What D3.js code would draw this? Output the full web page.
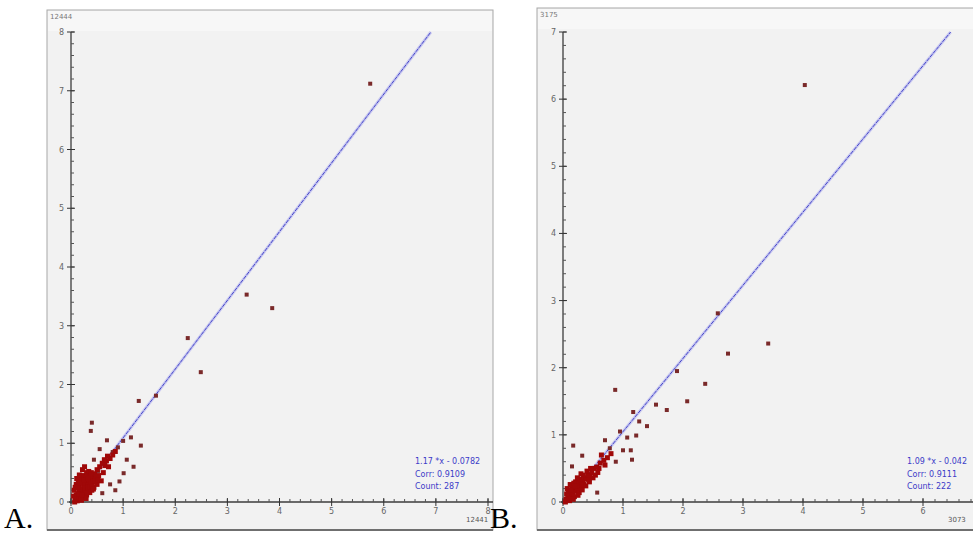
<!DOCTYPE html>
<html>
<head>
<meta charset="utf-8">
<script src="https://cdn.jsdelivr.net/npm/d3@7"></script>
<style>
    body { margin: 0; background: #ffffff; }
    svg { display: block; }
</style>
</head>
<body>
<svg id="chart"></svg>
<script>
// ---- data ----
const aTicks = [0, 1, 2, 3, 4, 5, 6, 7, 8];
const bTicks = [0, 1, 2, 3, 4, 5, 6, 7];
const bXTicks = [0, 1, 2, 3, 4, 5, 6];

// panel A, dense cluster near origin
const aClusterX = [0.08, 0.10, 0.12, 0.15, 0.18, 0.20, 0.22, 0.25, 0.27, 0.30, 0.32, 0.35, 0.38, 0.40, 0.42, 0.45, 0.48, 0.50, 0.53, 0.55,
    0.06, 0.10, 0.14, 0.16, 0.20, 0.24, 0.28, 0.30, 0.34, 0.12, 0.20, 0.26, 0.30, 0.36, 0.40, 0.44, 0.50, 0.58, 0.62, 0.65,
    0.68, 0.60, 0.72, 0.07, 0.09, 0.13, 0.17, 0.19, 0.23, 0.29, 0.33, 0.37, 0.41, 0.46, 0.52, 0.11, 0.16, 0.22, 0.26, 0.36,
    0.14, 0.18, 0.24, 0.28, 0.32, 0.05, 0.08, 0.21, 0.39, 0.43, 0.75, 0.80, 0.70, 0.85, 0.64];
const aClusterY = [0.05, 0.12, 0.08, 0.18, 0.10, 0.22, 0.15, 0.28, 0.20, 0.33, 0.25, 0.38, 0.30, 0.42, 0.35, 0.48, 0.40, 0.55, 0.45, 0.60,
    0.20, 0.30, 0.35, 0.28, 0.40, 0.45, 0.42, 0.50, 0.52, 0.02, 0.03, 0.08, 0.12, 0.16, 0.20, 0.25, 0.30, 0.36, 0.50, 0.62,
    0.70, 0.66, 0.60, 0.00, 0.08, 0.14, 0.22, 0.05, 0.32, 0.06, 0.20, 0.26, 0.28, 0.36, 0.38, 0.40, 0.46, 0.55, 0.60, 0.44,
    0.25, 0.33, 0.37, 0.15, 0.40, 0.10, 0.25, 0.12, 0.50, 0.22, 0.74, 0.80, 0.78, 0.86, 0.72];
// panel A, scattered points
const aOutX = [0.40, 0.38, 0.69, 0.90, 1.00, 1.34, 1.07, 0.44, 0.52, 0.65, 1.01, 0.93, 0.75, 0.85, 0.60, 1.20, 1.30, 1.63, 2.24, 2.49, 3.37, 3.86, 5.74, 0.80, 0.55, 1.15];
const aOutY = [1.35, 1.21, 1.05, 0.93, 1.04, 0.96, 0.72, 0.72, 0.53, 0.68, 0.49, 0.35, 0.30, 0.20, 0.15, 0.60, 1.72, 1.81, 2.79, 2.21, 3.53, 3.30, 7.12, 0.85, 0.90, 1.10];

// panel B, dense cluster near origin
const bClusterX = [0.05, 0.08, 0.10, 0.12, 0.14, 0.16, 0.18, 0.20, 0.22, 0.24, 0.26, 0.28, 0.30, 0.33, 0.36, 0.39, 0.42, 0.45, 0.48, 0.52,
    0.06, 0.09, 0.11, 0.15, 0.19, 0.23, 0.27, 0.31, 0.35, 0.40, 0.44, 0.50, 0.56, 0.62, 0.68, 0.74, 0.80, 0.58, 0.64, 0.70,
    0.04, 0.07, 0.13, 0.17, 0.21, 0.25, 0.29, 0.34, 0.38, 0.46, 0.12, 0.18, 0.24, 0.30, 0.10, 0.20, 0.32, 0.54, 0.60, 0.43];
const bClusterY = [0.04, 0.06, 0.10, 0.08, 0.14, 0.12, 0.18, 0.16, 0.22, 0.20, 0.25, 0.24, 0.30, 0.28, 0.34, 0.36, 0.40, 0.38, 0.44, 0.50,
    0.12, 0.16, 0.02, 0.22, 0.08, 0.28, 0.14, 0.20, 0.26, 0.46, 0.30, 0.36, 0.52, 0.58, 0.62, 0.66, 0.72, 0.44, 0.70, 0.55,
    0.00, 0.20, 0.18, 0.04, 0.30, 0.10, 0.34, 0.40, 0.24, 0.50, 0.26, 0.28, 0.36, 0.42, 0.05, 0.24, 0.18, 0.40, 0.50, 0.33];
// panel B, scattered points
const bOutX = [4.03, 2.58, 3.42, 2.75, 2.37, 0.87, 2.07, 1.73, 1.17, 1.27, 1.40, 1.07, 1.22, 1.13, 1.15, 1.00, 0.88, 0.78, 0.32, 0.17, 0.15, 0.57, 1.55, 1.90, 0.95, 0.70];
const bOutY = [6.21, 2.81, 2.36, 2.21, 1.76, 1.67, 1.50, 1.37, 1.34, 1.20, 1.13, 0.96, 0.99, 0.77, 0.63, 0.77, 0.60, 0.80, 0.69, 0.84, 0.53, 0.14, 1.45, 1.95, 1.05, 0.92];

// fit line + stats text
const aFit = { slope: 1.17, intercept: -0.0782 };
const bFit = { slope: 1.09, intercept: -0.042 };
const aStats = ["1.17 *x - 0.0782", "Corr: 0.9109", "Count: 287"];
const bStats = ["1.09 *x - 0.042", "Corr: 0.9111", "Count: 222"];
const aNames = { y: "12444", x: "12441" };
const bNames = { y: "3175", x: "3073" };

const toPoints = (xs, ys) => xs.map((x, i) => ({ x: x, y: ys[i] }));

class ScatterPanel {
    constructor(config, data) {
        this.config = {
            parent: config.parent,
            frame: config.frame,
            xrange: config.xrange,
            yrange: config.yrange,
            max: config.max,
            yticks: config.yticks,
            xticks: config.xticks,
            labelX: config.labelX,
            textX: config.textX
        }
        this.data = data;
        this.init();
    }

    init() {
        let self = this;
        let f = self.config.frame;

        self.g = self.config.parent.append('g');

        self.xscale = d3.scaleLinear()
            .domain([0, self.config.max])
            .range(self.config.xrange);
        self.yscale = d3.scaleLinear()
            .domain([0, self.config.max])
            .range(self.config.yrange);

        // panel background
        self.g.append('rect')
            .attr('x', f.x).attr('y', f.y)
            .attr('width', f.w).attr('height', f.h)
            .attr('fill', '#f2f2f2')
            .attr('stroke', '#a8a8a8');
        self.g.append('rect')
            .attr('x', f.x + 1).attr('y', f.y + 1)
            .attr('width', f.w - 2).attr('height', 20)
            .attr('fill', '#f7f7f7');
        self.g.append('line')
            .attr('x1', f.x).attr('x2', f.x + f.w)
            .attr('y1', f.y + f.h).attr('y2', f.y + f.h)
            .attr('stroke', '#6f6f6f')
            .attr('stroke-width', 2);
    }

    render() {
        let self = this;
        let x0 = self.xscale(0), y0 = self.yscale(0);
        let minor = d3.range(0, self.config.max + 0.001, 0.2);

        // y axis
        self.g.append('line')
            .attr('x1', x0).attr('x2', x0)
            .attr('y1', self.yscale(self.config.max)).attr('y2', y0 + 2)
            .attr('stroke', '#3c3c3c').attr('stroke-width', 1.3);
        self.g.selectAll('.ymin').data(minor).join('line')
            .attr('x1', x0).attr('x2', x0 + 3)
            .attr('y1', d => self.yscale(d)).attr('y2', d => self.yscale(d))
            .attr('stroke', '#555');
        self.g.selectAll('.ymaj').data(self.config.yticks).join('line')
            .attr('x1', x0 - 4).attr('x2', x0 + 4)
            .attr('y1', d => self.yscale(d)).attr('y2', d => self.yscale(d))
            .attr('stroke', '#333');
        self.g.selectAll('.ylab').data(self.config.yticks).join('text')
            .attr('x', x0 - 7)
            .attr('y', d => self.yscale(d) + 3)
            .attr('text-anchor', 'end')
            .attr('font-size', 8)
            .attr('font-family', 'DejaVu Sans')
            .attr('fill', '#666')
            .text(d => d);

        // x axis
        self.g.append('line')
            .attr('x1', x0 - 2).attr('x2', self.config.frame.x + self.config.frame.w)
            .attr('y1', y0).attr('y2', y0)
            .attr('stroke', '#3c3c3c').attr('stroke-width', 1.3);
        self.g.selectAll('.xmin').data(minor).join('line')
            .attr('x1', d => self.xscale(d)).attr('x2', d => self.xscale(d))
            .attr('y1', y0).attr('y2', y0 - 3)
            .attr('stroke', '#555');
        self.g.selectAll('.xmaj').data(self.config.xticks).join('line')
            .attr('x1', d => self.xscale(d)).attr('x2', d => self.xscale(d))
            .attr('y1', y0 - 4).attr('y2', y0 + 4)
            .attr('stroke', '#333');
        self.g.selectAll('.xlab').data(self.config.xticks).join('text')
            .attr('x', d => self.xscale(d))
            .attr('y', y0 + 12)
            .attr('text-anchor', 'middle')
            .attr('font-size', 8)
            .attr('font-family', 'DejaVu Sans')
            .attr('fill', '#666')
            .text(d => d);

        // axis names
        self.g.append('text')
            .attr('x', self.config.frame.x + 3)
            .attr('y', self.config.frame.y + 9)
            .attr('font-size', 7)
            .attr('font-family', 'DejaVu Sans')
            .attr('fill', '#777')
            .text(self.data.names.y);
        self.g.append('text')
            .attr('x', self.config.labelX)
            .attr('y', y0 + 20)
            .attr('font-size', 7)
            .attr('font-family', 'DejaVu Sans')
            .attr('fill', '#555')
            .text(self.data.names.x);

        // fit line
        let fit = self.data.fit;
        let xa = -fit.intercept / fit.slope;
        let xb = (self.config.max - fit.intercept) / fit.slope;
        self.g.append('line')
            .attr('x1', self.xscale(xa)).attr('y1', self.yscale(0))
            .attr('x2', self.xscale(xb)).attr('y2', self.yscale(self.config.max))
            .attr('stroke', '#c8c8f0').attr('stroke-width', 3);
        self.g.append('line')
            .attr('x1', self.xscale(xa)).attr('y1', self.yscale(0))
            .attr('x2', self.xscale(xb)).attr('y2', self.yscale(self.config.max))
            .attr('stroke', '#4646c8').attr('stroke-width', 1)
            .attr('stroke-dasharray', '4,1');

        // points
        self.g.selectAll('.pt-out').data(self.data.outliers).join('rect')
            .attr('x', d => self.xscale(d.x) - 2)
            .attr('y', d => self.yscale(d.y) - 2)
            .attr('width', 4).attr('height', 4)
            .attr('fill', '#7a2a2a');
        self.g.selectAll('.pt-cl').data(self.data.cluster).join('rect')
            .attr('x', d => self.xscale(d.x) - 2.5)
            .attr('y', d => self.yscale(d.y) - 2.5)
            .attr('width', 5).attr('height', 5)
            .attr('fill', '#a00808');

        // stats text
        self.g.selectAll('.stat').data(self.data.stats).join('text')
            .attr('x', self.config.textX)
            .attr('y', (d, i) => 464 + i * 12.5)
            .attr('font-size', 8)
            .attr('font-family', 'DejaVu Sans')
            .attr('fill', '#3c3cc8')
            .text(d => d);
    }
}

const svg = d3.select('#chart')
    .attr('width', 973)
    .attr('height', 533);

const panelA = new ScatterPanel({
    parent: svg,
    frame: { x: 47, y: 10, w: 446, h: 520 },
    xrange: [71, 488],
    yrange: [502, 32],
    max: 8,
    yticks: aTicks,
    xticks: aTicks,
    labelX: 466,
    textX: 415
}, {
    cluster: toPoints(aClusterX, aClusterY),
    outliers: toPoints(aOutX, aOutY),
    fit: aFit,
    stats: aStats,
    names: aNames
});
panelA.render();

const panelB = new ScatterPanel({
    parent: svg,
    frame: { x: 537, y: 8, w: 440, h: 522 },
    xrange: [563, 983],
    yrange: [502, 32],
    max: 7,
    yticks: bTicks,
    xticks: bXTicks,
    labelX: 948,
    textX: 907
}, {
    cluster: toPoints(bClusterX, bClusterY),
    outliers: toPoints(bOutX, bOutY),
    fit: bFit,
    stats: bStats,
    names: bNames
});
panelB.render();

// panel letters
svg.append('text').attr('x', 4).attr('y', 528)
    .attr('font-size', 30).attr('font-family', 'Liberation Serif')
    .text('A.');
svg.append('text').attr('x', 490).attr('y', 528)
    .attr('font-size', 30).attr('font-family', 'Liberation Serif')
    .text('B.');
</script>
</body>
</html>
